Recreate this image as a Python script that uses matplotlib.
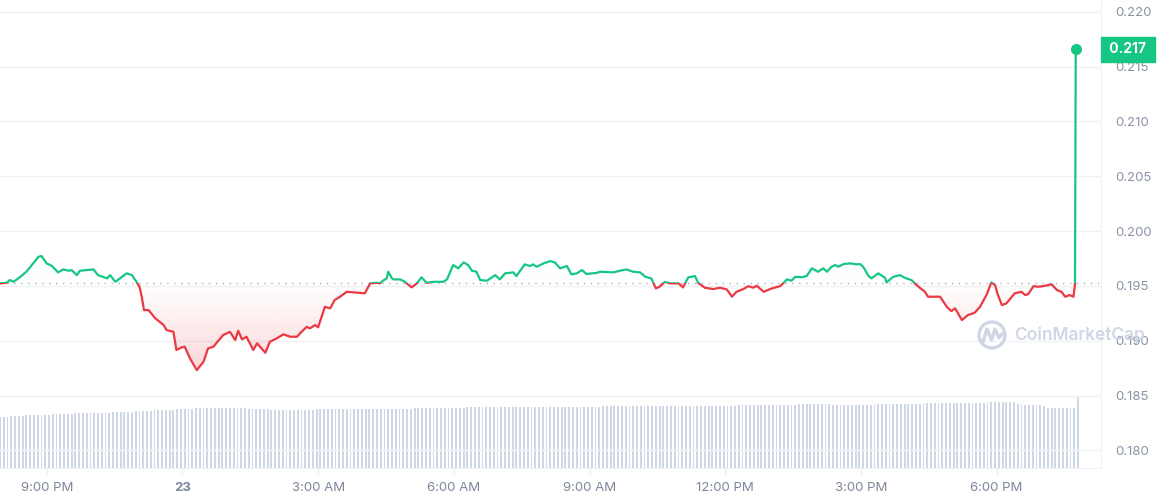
import numpy as np
import pandas as pd
import matplotlib
matplotlib.use("Agg")
import matplotlib.pyplot as plt
from matplotlib.patches import Rectangle, Polygon, Circle
from matplotlib.lines import Line2D

plt.rcParams['font.family'] = ['Inter', 'DejaVu Sans']

# price line (minutes after 19:58 on the 22nd, price in USD)
minutes = [0, 9, 13, 18, 27, 35, 44, 51, 55, 62, 69, 77, 84, 91, 95, 102, 106, 115, 124, 130,
           142, 146, 153, 159, 168, 175, 181, 185, 188, 191, 197, 206, 217, 221, 230, 234, 241, 245,
           252, 261, 270, 276, 283, 296, 305, 312, 316, 321, 327, 336, 341, 352, 358, 367, 376, 385,
           394, 400, 407, 411, 418, 422, 431, 438, 444, 451, 460, 469, 478, 484, 491, 500, 504, 508,
           513, 515, 520, 522, 531, 537, 546, 553, 559, 566, 575, 588, 593, 601, 608, 615, 621, 626,
           632, 637, 646, 657, 663, 670, 681, 685, 696, 703, 707, 712, 721, 730, 736, 743, 752, 758,
           765, 772, 778, 792, 796, 814, 822, 831, 840, 849, 856, 864, 870, 875, 882, 889, 900, 906,
           913, 922, 926, 935, 946, 955, 964, 971, 977, 986, 993, 999, 1004, 1013, 1024, 1035, 1044,
           1050, 1055, 1063, 1070, 1077, 1085, 1092, 1097, 1103, 1108, 1112, 1119, 1128, 1136, 1141,
           1145, 1152, 1156, 1165, 1174, 1176, 1185, 1194, 1200, 1209, 1216, 1220, 1227, 1231, 1247,
           1256, 1262, 1267, 1276, 1284, 1293, 1300, 1309, 1315, 1320, 1323, 1329, 1335, 1346, 1355,
           1360, 1364, 1371, 1377, 1384, 1395, 1402, 1408, 1413, 1419, 1424, 1426, 1427]
prices = [0.19523, 0.19528, 0.19553, 0.19537, 0.19583, 0.19629, 0.19705, 0.19765, 0.19772, 0.19705,
          0.19681, 0.19623, 0.19650, 0.19638, 0.19644, 0.19598, 0.19638, 0.19644, 0.19650, 0.19598,
          0.19568, 0.19598, 0.19537, 0.19568, 0.19614, 0.19598, 0.19537, 0.19492, 0.19401, 0.19279,
          0.19279, 0.19204, 0.19143, 0.19097, 0.19081, 0.18915, 0.18939, 0.18945, 0.18839, 0.18732,
          0.18808, 0.18930, 0.18945, 0.19051, 0.19081, 0.19006, 0.19091, 0.19012, 0.19036, 0.18915,
          0.18976, 0.18890, 0.18990, 0.19021, 0.19058, 0.19036, 0.19036, 0.19081, 0.19127, 0.19112,
          0.19143, 0.19122, 0.19309, 0.19295, 0.19371, 0.19401, 0.19446, 0.19441, 0.19437, 0.19432,
          0.19523, 0.19528, 0.19523, 0.19547, 0.19568, 0.19629, 0.19568, 0.19559, 0.19559, 0.19537,
          0.19486, 0.19523, 0.19578, 0.19528, 0.19537, 0.19537, 0.19559, 0.19690, 0.19660, 0.19714,
          0.19690, 0.19638, 0.19629, 0.19553, 0.19547, 0.19598, 0.19559, 0.19614, 0.19623, 0.19589,
          0.19696, 0.19681, 0.19696, 0.19674, 0.19705, 0.19726, 0.19714, 0.19660, 0.19681, 0.19605,
          0.19614, 0.19644, 0.19608, 0.19619, 0.19629, 0.19623, 0.19638, 0.19650, 0.19629, 0.19623,
          0.19583, 0.19568, 0.19477, 0.19492, 0.19537, 0.19523, 0.19523, 0.19486, 0.19578, 0.19589,
          0.19528, 0.19483, 0.19471, 0.19483, 0.19468, 0.19401, 0.19446, 0.19471, 0.19498, 0.19483,
          0.19501, 0.19446, 0.19477, 0.19498, 0.19559, 0.19547, 0.19583, 0.19578, 0.19589, 0.19660,
          0.19629, 0.19660, 0.19629, 0.19674, 0.19690, 0.19674, 0.19699, 0.19705, 0.19696, 0.19699,
          0.19674, 0.19592, 0.19568, 0.19614, 0.19574, 0.19532, 0.19583, 0.19598, 0.19574, 0.19553,
          0.19507, 0.19483, 0.19446, 0.19401, 0.19401, 0.19309, 0.19270, 0.19295, 0.19188, 0.19234,
          0.19255, 0.19309, 0.19422, 0.19532, 0.19507, 0.19432, 0.19325, 0.19340, 0.19432, 0.19446,
          0.19416, 0.19425, 0.19498, 0.19492, 0.19498, 0.19514, 0.19462, 0.19446, 0.19401, 0.19416,
          0.19401, 0.19516, 0.21657]

# volume bars, one every 5 minutes (relative heights)
volumes = [51, 51, 51.5, 52, 52, 52.5, 52.5, 52.7, 53, 53, 53.2, 53.4,
           53.5, 53.5, 53.7, 53.7, 53.7, 54, 54, 54.4, 55, 55, 55, 55.4,
           55.4, 55.4, 55.4, 55.4, 55.4, 55.4, 56, 56, 56, 56, 56, 56.4,
           57, 57, 57, 57, 57.5, 58, 58, 58.4, 58.4, 58.4, 58.4, 59,
           59.4, 59.4, 59.4, 59.4, 60, 60, 60.4, 60.4, 60.4, 60.4, 60.4, 60.4,
           60.4, 60.4, 60.4, 60.4, 60.4, 60.4, 59.4, 59.4, 59.4, 59.4, 59, 59,
           58.4, 58.4, 58.4, 58.4, 58.4, 58.4, 58.4, 58.4, 58.4, 58.4, 58.4, 58.4,
           59, 59, 59, 59, 59.4, 59.4, 59.4, 59.4, 59.4, 59.4, 59.4, 59.4,
           59.4, 59.4, 59.4, 59.4, 59.4, 59.4, 59.4, 59.4, 59.4, 59.4, 59.4, 59.4,
           59.4, 59.4, 60, 60, 60, 60, 60, 60, 60.4, 60.4, 60.4, 60.4,
           60.4, 60.4, 60.4, 60.4, 60.7, 60.7, 60.7, 60.7, 61, 61, 61, 61,
           61, 61, 61, 61, 61, 61, 61, 61, 61, 61, 61, 61,
           61, 61, 61, 61.4, 61.4, 61.4, 61.4, 61.4, 61.4, 61.4, 61.4, 61.4,
           61.4, 61.4, 61.4, 61.4, 61.7, 61.7, 61.7, 61.7, 62, 62, 62, 62,
           62, 62, 62, 62, 62, 62, 62, 62, 62, 62, 62, 62,
           62.4, 62.4, 62.4, 62.4, 62.4, 62.4, 62.4, 62.4, 62.4, 62.4, 62.4, 62.4,
           62.4, 62.4, 62.4, 62.4, 62.7, 62.7, 62.7, 62.7, 63, 63, 63, 63,
           63, 63, 63, 63, 63.4, 63.4, 63.4, 63.4, 63.7, 63.7, 64, 64,
           64, 64, 64, 64, 64, 63, 63, 63, 63, 63, 63, 63,
           63, 63, 63, 63, 63, 63.7, 63.7, 63.7, 63.7, 63.7, 63.7, 63.7,
           63.7, 63.7, 63.7, 63.7, 63.7, 64.7, 64.7, 64.7, 64.7, 64.7, 64.7, 64.7,
           64.7, 64.7, 64.7, 64.7, 65, 65, 65, 65, 65, 65, 65.7, 65.7,
           65.7, 65.7, 65.7, 65.7, 65.7, 65.7, 64.5, 63.3, 63.3, 63.3, 63.3, 63.3,
           63.3, 62, 60.3, 60.3, 60.3, 60.3, 60.3, 60.3, 60.3, 60.3, 71.7]

start = pd.Timestamp("2023-06-22 19:58")
tick_times = ["2023-06-22 21:00", "2023-06-23 00:00", "2023-06-23 03:00", "2023-06-23 06:00",
              "2023-06-23 09:00", "2023-06-23 12:00", "2023-06-23 15:00", "2023-06-23 18:00"]
tick_labels = ["9:00 PM", "23", "3:00 AM", "6:00 AM", "9:00 AM", "12:00 PM", "3:00 PM", "6:00 PM"]
y_ticks = [0.180, 0.185, 0.190, 0.195, 0.200, 0.205, 0.210, 0.215, 0.220]

GREEN = "#16c784"
RED = "#ea3943"
LABEL = "#8a93a6"

t = start + pd.to_timedelta(minutes, unit="min")
tn = matplotlib.dates.date2num(t.to_pydatetime())
p = np.array(prices)
base = prices[0]
vol_t = start + pd.to_timedelta(np.arange(len(volumes)) * 5, unit="min")

fig = plt.figure(figsize=(11.61, 5), dpi=100)
ax = fig.add_axes([0, 0.064, 1101 / 1161, 0.936])
ax2 = ax.twinx()
ax.set_zorder(ax2.get_zorder() + 1)
ax.patch.set_visible(False)

# volume
ax2.bar(vol_t, volumes, width=2.4 / 1440, color="#cfd6e4", linewidth=0)
ax2.set_ylim(0, 468)
ax2.set_yticks([])
for s in ax2.spines.values():
    s.set_visible(False)

x0 = matplotlib.dates.date2num(start.to_pydatetime())
x1 = x0 + 1460.5 / 1440

# gradient fills between line and baseline, stronger away from the open
poly = Polygon([(tn[0], base)] + list(zip(tn, p)) + [(tn[-1], base)], closed=True,
               transform=ax.transData, facecolor="none", edgecolor="none")
ax.add_patch(poly)
red_grad = np.zeros((100, 2, 4))
red_grad[..., :3] = matplotlib.colors.to_rgb(RED)
red_grad[..., 3] = np.linspace(0.2, 0, 100)[:, None]
im = ax.imshow(red_grad, extent=[x0, x1, p.min(), base], aspect="auto", origin="lower",
               interpolation="bilinear", zorder=1)
im.set_clip_path(poly)
grn_grad = np.zeros((100, 2, 4))
grn_grad[..., :3] = matplotlib.colors.to_rgb(GREEN)
grn_grad[..., 3] = np.linspace(0, 0.2, 100)[:, None]
im2 = ax.imshow(grn_grad, extent=[x0, x1, base, p.max()], aspect="auto", origin="lower",
                interpolation="bilinear", zorder=1)
im2.set_clip_path(poly)
ax.set_xlim(x0, x1)
ax.set_ylim(0.17839, 0.22107)

# price line, green above the open and red below
up, = ax.plot(tn, p, color=GREEN, lw=1.6, zorder=3, solid_joinstyle="round")
dn, = ax.plot(tn, p, color=RED, lw=1.6, zorder=3, solid_joinstyle="round")
up.set_clip_path(Rectangle((x0 - 1, base), 3, 1, transform=ax.transData))
dn.set_clip_path(Rectangle((x0 - 1, base - 1), 3, 1, transform=ax.transData))
ax.plot(tn[-1], p[-1], "o", color=GREEN, ms=7, zorder=4)

ax.axhline(base, color="#a6b0c3", lw=1, ls=(0, (1, 4)), zorder=2)

# axes styling
ax.set_yticks(y_ticks)
ax.set_yticklabels([f"{v:.3f}" for v in y_ticks])
ax.yaxis.tick_right()
ax.tick_params(axis="y", length=0, pad=10, labelsize=9.5, labelcolor=LABEL)
ax.yaxis.grid(True, color="#f1f2f4", lw=1)
ax.set_axisbelow(True)
ax.set_xticks(matplotlib.dates.date2num(pd.to_datetime(tick_times).to_pydatetime()))
ax.set_xticklabels(tick_labels)
ax.tick_params(axis="x", length=4, color="#e6e9ee", pad=6, labelsize=9.5, labelcolor="#7d879b")
for lbl in ax.get_xticklabels():
    if lbl.get_text() == "23":
        lbl.set_fontweight("bold")
for side in ["top", "left"]:
    ax.spines[side].set_visible(False)
ax.spines["bottom"].set_color("#eff2f5")
ax.spines["right"].set_color("#eff2f5")

# last price tag
ax.annotate(" 0.217 ", xy=(1.0, p[-1]), xycoords=ax.get_yaxis_transform(),
            xytext=(5, 0), textcoords="offset pixels", ha="left", va="center",
            fontsize=10, fontweight="bold", color="white", zorder=10, annotation_clip=False,
            bbox=dict(boxstyle="square,pad=0.38", fc=GREEN, ec=GREEN))

# watermark
wm = "#cfd6e4"
fig.patches.append(Circle((9.92, 1.65), 0.13, transform=fig.dpi_scale_trans, fill=False,
                          ec=wm, lw=2.4, zorder=20))
fig.lines.append(Line2D([9.83, 9.87, 9.915, 9.95, 9.99, 10.02], [1.58, 1.71, 1.60, 1.71, 1.62, 1.66],
                        transform=fig.dpi_scale_trans, color=wm, lw=2.4, zorder=20))
fig.text(10.14 / 11.61, 1.65 / 5, "CoinMarketCap", fontsize=12.5, fontweight="semibold",
         color=wm, ha="left", va="center", zorder=20)

fig.savefig("out.png", dpi=100, facecolor="white")
